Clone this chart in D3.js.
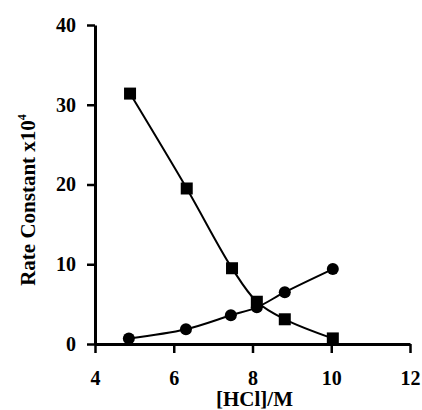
<!DOCTYPE html>
<html>
<head>
<meta charset="utf-8">
<script src="https://cdn.jsdelivr.net/npm/d3@7"></script>
<style>
  body { margin: 0; background: #fff; }
  svg text { font-family: "Liberation Serif", "Times New Roman", serif; font-weight: bold; fill: #000; }
</style>
</head>
<body>
<div id="chart"></div>
<script>
// Data
const xTicks = [4, 6, 8, 10, 12];
const yTicks = [0, 10, 20, 30, 40];

const squareX = [4.89, 6.33, 7.48, 8.11, 8.82, 10.04];
const squareY = [31.4, 19.5, 9.5, 5.3, 3.1, 0.7];

const circleX = [4.86, 6.31, 7.45, 8.11, 8.82, 10.04];
const circleY = [0.7, 1.85, 3.6, 4.6, 6.5, 9.4];

const W = 422, H = 410;
const margin = { top: 25, right: 12, bottom: 66, left: 95 };
const width = W - margin.left - margin.right;
const height = H - margin.top - margin.bottom;

const svg = d3.select('#chart')
    .append('svg')
    .attr('width', W)
    .attr('height', H);

const g = svg.append('g')
    .attr('transform', `translate(${margin.left},${margin.top})`);

// Scales
const x = d3.scaleLinear().domain([4, 12]).range([0, width]);
const y = d3.scaleLinear().domain([0, 40]).range([height, 0]);

// X axis
const xAxis = g.append('g')
    .attr('transform', `translate(0,${height})`)
    .call(d3.axisBottom(x).tickValues(xTicks).tickSize(9).tickSizeOuter(0).tickPadding(18));
xAxis.select('.domain').attr('stroke-width', 3).attr('stroke', '#000');
xAxis.selectAll('.tick line').attr('stroke-width', 2.5).attr('stroke', '#000');
xAxis.selectAll('.tick text').style('font-size', '20px');

// Y axis
const yAxis = g.append('g')
    .call(d3.axisLeft(y).tickValues(yTicks).tickSize(8).tickSizeOuter(0).tickPadding(11));
yAxis.select('.domain').attr('stroke-width', 3).attr('stroke', '#000');
yAxis.selectAll('.tick line').attr('stroke-width', 2.5).attr('stroke', '#000');
yAxis.selectAll('.tick text').style('font-size', '20px');

// Axis labels
svg.append('text')
    .attr('x', margin.left + x(8) + 2)
    .attr('y', 406)
    .attr('text-anchor', 'middle')
    .style('font-size', '21px')
    .text('[HCl]/M');

const yl = svg.append('text')
    .attr('transform', `translate(35,${200}) rotate(-90)`)
    .attr('text-anchor', 'middle')
    .style('font-size', '21px');
yl.append('tspan').text('Rate Constant x10');
yl.append('tspan').attr('dy', -9).style('font-size', '12px').text('4');

// Lines
const line = d3.line()
    .x(d => x(d[0]))
    .y(d => y(d[1]))
    .curve(d3.curveCatmullRom.alpha(0.5));

const squares = squareX.map((v, i) => [v, squareY[i]]);
const circles = circleX.map((v, i) => [v, circleY[i]]);

g.append('path')
    .datum(squares)
    .attr('d', line)
    .attr('fill', 'none')
    .attr('stroke', '#000')
    .attr('stroke-width', 2);

g.append('path')
    .datum(circles)
    .attr('d', line)
    .attr('fill', 'none')
    .attr('stroke', '#000')
    .attr('stroke-width', 2);

// Markers
g.selectAll('.sq')
    .data(squares)
    .enter()
    .append('rect')
    .attr('class', 'sq')
    .attr('x', d => x(d[0]) - 6)
    .attr('y', d => y(d[1]) - 6)
    .attr('width', 12)
    .attr('height', 12)
    .attr('fill', '#000');

g.selectAll('.ci')
    .data(circles)
    .enter()
    .append('circle')
    .attr('class', 'ci')
    .attr('cx', d => x(d[0]))
    .attr('cy', d => y(d[1]))
    .attr('r', 6)
    .attr('fill', '#000');
</script>
</body>
</html>
